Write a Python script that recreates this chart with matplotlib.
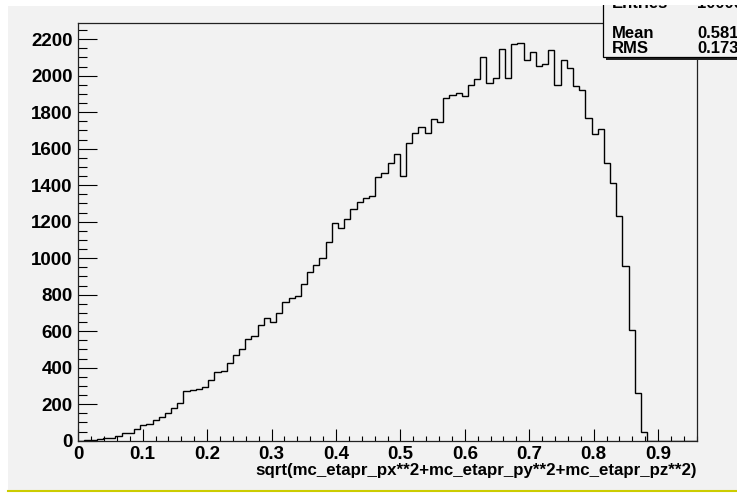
import numpy as np
import matplotlib
matplotlib.use('Agg')
import matplotlib.pyplot as plt
from matplotlib.patches import Rectangle
from matplotlib.lines import Line2D
from matplotlib.ticker import MultipleLocator, FuncFormatter

# histogram: 100 bins between 0 and 0.96
x_low = 0.0
x_high = 0.96
n_bins = 100
counts = [0, 4, 3, 11, 16, 17, 28, 42, 42, 66,
          84, 91, 112, 132, 150, 181, 205, 272, 280, 282,
          296, 333, 374, 381, 424, 470, 501, 555, 575, 636,
          670, 649, 698, 762, 780, 793, 857, 926, 963, 1002,
          1091, 1195, 1167, 1213, 1270, 1310, 1328, 1341, 1443, 1469,
          1520, 1569, 1450, 1629, 1684, 1721, 1688, 1761, 1748, 1876,
          1894, 1907, 1889, 1949, 1980, 2101, 1962, 1989, 2144, 1986,
          2174, 2181, 2084, 2132, 2053, 2064, 2139, 1949, 2084, 2040,
          1944, 1922, 1766, 1680, 1706, 1523, 1414, 1233, 959, 607,
          260, 46, 0, 0, 0, 0, 0, 0, 0, 0]

stat_names = ['Entries', 'Mean', 'RMS']
stat_values = ['100000', '0.581', '0.173']

x_title = 'sqrt(mc_etapr_px**2+mc_etapr_py**2+mc_etapr_pz**2)'

W, H = 737, 494
BG = '#f2f2f2'
FONT = 'Liberation Sans'

def fx(px):
    return px / W

def fy(py):
    return 1 - py / H

fig = plt.figure(figsize=(W / 100, H / 100), dpi=100)
fig.patch.set_facecolor('white')

# grey canvas area + yellow line at the bottom
fig.patches.append(Rectangle((fx(8), fy(490)), fx(W - 8), (490 - 6) / H,
                             transform=fig.transFigure, facecolor=BG,
                             edgecolor='none', zorder=-10))
fig.lines.append(Line2D([fx(8), 1], [fy(491), fy(491)], transform=fig.transFigure,
                        color='#cccc00', lw=1.5))

left, right, top, bottom = 78.3, 696.7, 22.8, 440.7
ax = fig.add_axes([fx(left), fy(bottom), fx(right - left), (bottom - top) / H])
ax.set_facecolor(BG)

edges = np.linspace(x_low, x_high, n_bins + 1)
ax.stairs(counts, edges, color='black', lw=1.0)

ax.set_xlim(x_low, x_high)
ax.set_ylim(0, 2290)

ax.xaxis.set_major_locator(MultipleLocator(0.1))
ax.xaxis.set_minor_locator(MultipleLocator(0.02))
ax.yaxis.set_major_locator(MultipleLocator(200))
ax.yaxis.set_minor_locator(MultipleLocator(50))
ax.xaxis.set_major_formatter(FuncFormatter(lambda v, p: f'{v:g}'))

ax.tick_params(which='both', direction='in', top=False, right=False,
               width=0.8, color='black')
ax.tick_params(axis='x', which='major', length=8.4, pad=4.0)
ax.tick_params(axis='x', which='minor', length=3.8)
ax.tick_params(axis='y', which='major', length=13.7, pad=4)
ax.tick_params(axis='y', which='minor', length=6.8)

for lab in ax.get_xticklabels() + ax.get_yticklabels():
    lab.set_fontfamily(FONT)
    lab.set_fontweight('bold')
    lab.set_fontsize(13.5)

for sp in ax.spines.values():
    sp.set_color('#222222')
    sp.set_linewidth(0.9)

fig.text(fx(right), fy(471), x_title, ha='right', va='center',
         fontfamily=FONT, fontweight='bold', fontsize=12.2)

# stats box (partly outside the picture)
bx0, by1 = 603.3, 57.3
fig.patches.append(Rectangle((fx(bx0 + 3), fy(by1 + 3)), fx(W), (by1 + 10) / H,
                             transform=fig.transFigure, facecolor='#222222',
                             edgecolor='none', zorder=5))
fig.patches.append(Rectangle((fx(bx0), fy(by1)), fx(W), (by1 + 10) / H,
                             transform=fig.transFigure, facecolor=BG,
                             edgecolor='black', lw=0.9, zorder=6))
rows_y = [4.0, 34.0, 48.5]
for name, val, yy in zip(stat_names, stat_values, rows_y):
    fig.text(fx(612), fy(yy), name, ha='left', va='center', fontfamily=FONT,
             fontweight='bold', fontsize=12, zorder=7)
    fig.text(fx(697), fy(yy), val, ha='left', va='center', fontfamily=FONT,
             fontweight='bold', fontsize=12, zorder=7)

# white strip on top of everything
fig.patches.append(Rectangle((0, fy(5)), 1, 5 / H, transform=fig.transFigure,
                             facecolor='white', edgecolor='none', zorder=20))

fig.savefig('out.png', dpi=100)
